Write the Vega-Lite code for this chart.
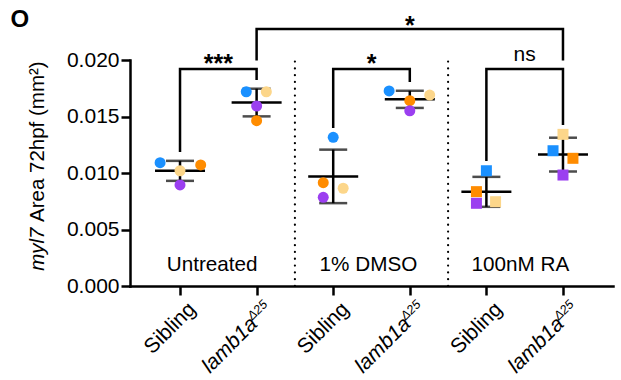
{
  "$schema": "https://vega.github.io/schema/vega-lite/v6.json",
  "width": 483,
  "height": 226,
  "autosize": {"type": "none"},
  "padding": {"left": 130, "top": 60, "right": 8, "bottom": 94},
  "background": "white",
  "config": {
    "view": {"stroke": null},
    "font": "Liberation Sans",
    "text": {"font": "Liberation Sans", "color": "black"}
  },
  "datasets": {
    "pts": [
      {"g": 1, "x": 0.74, "v": 0.01091, "rep": "R1", "treat": "Untreated"},
      {"g": 1, "x": 1.27, "v": 0.01071, "rep": "R2", "treat": "Untreated"},
      {"g": 1, "x": 1.0, "v": 0.00894, "rep": "R3", "treat": "Untreated"},
      {"g": 1, "x": 1.0, "v": 0.01020, "rep": "R4", "treat": "Untreated"},
      {"g": 2, "x": 1.865, "v": 0.01719, "rep": "R1", "treat": "Untreated"},
      {"g": 2, "x": 2.0, "v": 0.01463, "rep": "R2", "treat": "Untreated"},
      {"g": 2, "x": 2.0, "v": 0.01593, "rep": "R3", "treat": "Untreated"},
      {"g": 2, "x": 2.127, "v": 0.01719, "rep": "R4", "treat": "Untreated"},
      {"g": 3, "x": 3.0, "v": 0.01316, "rep": "R1", "treat": "DMSO"},
      {"g": 3, "x": 2.87, "v": 0.00914, "rep": "R2", "treat": "DMSO"},
      {"g": 3, "x": 2.87, "v": 0.00785, "rep": "R3", "treat": "DMSO"},
      {"g": 3, "x": 3.13, "v": 0.00865, "rep": "R4", "treat": "DMSO"},
      {"g": 4, "x": 3.73, "v": 0.01726, "rep": "R1", "treat": "DMSO"},
      {"g": 4, "x": 4.0, "v": 0.01640, "rep": "R2", "treat": "DMSO"},
      {"g": 4, "x": 4.0, "v": 0.01551, "rep": "R3", "treat": "DMSO"},
      {"g": 4, "x": 4.26, "v": 0.01690, "rep": "R4", "treat": "DMSO"},
      {"g": 5, "x": 5.0, "v": 0.01020, "rep": "R1", "treat": "RA"},
      {"g": 5, "x": 4.87, "v": 0.00835, "rep": "R2", "treat": "RA"},
      {"g": 5, "x": 4.87, "v": 0.00732, "rep": "R3", "treat": "RA"},
      {"g": 5, "x": 5.12, "v": 0.00746, "rep": "R4", "treat": "RA"},
      {"g": 6, "x": 5.87, "v": 0.01197, "rep": "R1", "treat": "RA"},
      {"g": 6, "x": 6.13, "v": 0.01130, "rep": "R2", "treat": "RA"},
      {"g": 6, "x": 6.0, "v": 0.00982, "rep": "R3", "treat": "RA"},
      {"g": 6, "x": 6.0, "v": 0.01342, "rep": "R4", "treat": "RA"}
    ],
    "brackets": [
      {"b": 1, "o": 1, "x": 1, "y": 0.01186},
      {"b": 1, "o": 2, "x": 1, "y": 0.0192},
      {"b": 1, "o": 3, "x": 2, "y": 0.0192},
      {"b": 1, "o": 4, "x": 2, "y": 0.01823},
      {"b": 2, "o": 1, "x": 2, "y": 0.01996},
      {"b": 2, "o": 2, "x": 2, "y": 0.02274},
      {"b": 2, "o": 3, "x": 6, "y": 0.02274},
      {"b": 2, "o": 4, "x": 6, "y": 0.01996},
      {"b": 3, "o": 1, "x": 3, "y": 0.01398},
      {"b": 3, "o": 2, "x": 3, "y": 0.0192},
      {"b": 3, "o": 3, "x": 4, "y": 0.0192},
      {"b": 3, "o": 4, "x": 4, "y": 0.01805},
      {"b": 4, "o": 1, "x": 5, "y": 0.01106},
      {"b": 4, "o": 2, "x": 5, "y": 0.0192},
      {"b": 4, "o": 3, "x": 6, "y": 0.0192},
      {"b": 4, "o": 4, "x": 6, "y": 0.01425}
    ]
  },
  "layer": [
    {
      "data": {"values": [{"s": 2.5}, {"s": 4.5}]},
      "mark": {"type": "rule", "strokeWidth": 2.2, "strokeDash": [0.1, 6.7], "strokeCap": "round", "color": "black"},
      "encoding": {
        "x": {"field": "s", "type": "quantitative", "scale": {"domain": [0.347, 6.653], "nice": false, "zero": false},
          "axis": {"title": null, "values": [1, 2, 3, 4, 5, 6], "labels": false, "grid": false, "tickSize": 9, "tickWidth": 2.5, "tickColor": "black", "domainWidth": 2.5, "domainColor": "black", "domainCap": "square"}},
        "y": {"datum": 0, "type": "quantitative", "scale": {"domain": [0, 0.02], "nice": false},
          "axis": {"title": null, "values": [0, 0.005, 0.01, 0.015, 0.02], "format": ".3f", "grid": false, "tickSize": 9, "tickWidth": 2.5, "tickColor": "black", "domainWidth": 2.5, "domainColor": "black", "domainCap": "square", "labelFont": "Liberation Sans", "labelFontSize": 21, "labelColor": "black", "labelPadding": 2}},
        "y2": {"datum": 0.02}
      }
    },
    {
      "data": {"name": "brackets"},
      "mark": {"type": "line", "strokeWidth": 2.5, "color": "black", "strokeJoin": "miter", "strokeCap": "butt"},
      "encoding": {
        "x": {"field": "x", "type": "quantitative", "title": null},
        "y": {"field": "y", "type": "quantitative", "title": null},
        "detail": {"field": "b"},
        "order": {"field": "o"}
      }
    },
    {
      "data": {"name": "pts"},
      "mark": {"type": "errorbar", "extent": "stdev", "orient": "vertical", "ticks": true, "size": 28, "thickness": 2.5, "color": "black"},
      "encoding": {
        "x": {"field": "g", "type": "quantitative", "title": null},
        "y": {"field": "v", "type": "quantitative", "title": null}
      }
    },
    {
      "data": {"name": "pts"},
      "mark": {"type": "tick", "orient": "horizontal", "size": 50, "thickness": 2.5, "color": "black", "opacity": 1},
      "encoding": {
        "x": {"field": "g", "type": "quantitative", "title": null},
        "y": {"aggregate": "mean", "field": "v", "type": "quantitative", "title": null}
      }
    },
    {
      "data": {"name": "pts"},
      "mark": {"type": "point", "filled": true, "opacity": 1, "size": 121, "strokeWidth": 0},
      "encoding": {
        "x": {"field": "x", "type": "quantitative", "title": null},
        "y": {"field": "v", "type": "quantitative", "title": null},
        "color": {"field": "rep", "type": "nominal", "legend": null,
          "scale": {"domain": ["R1", "R2", "R3", "R4"], "range": ["#1a90ff", "#ff8c00", "#9b3ff0", "#fcd68a"]}},
        "shape": {"field": "treat", "type": "nominal", "legend": null,
          "scale": {"domain": ["Untreated", "DMSO", "RA"], "range": ["circle", "circle", "square"]}}
      }
    },
    {
      "data": {"values": [{"x": 1.5, "y": 0.01894, "t": "***"}, {"x": 3.5, "y": 0.01894, "t": "*"}, {"x": 4.0, "y": 0.02234, "t": "*"}]},
      "mark": {"type": "text", "fontSize": 25, "fontWeight": "bold", "align": "center", "baseline": "alphabetic"},
      "encoding": {
        "x": {"field": "x", "type": "quantitative", "title": null},
        "y": {"field": "y", "type": "quantitative", "title": null},
        "text": {"field": "t"}
      }
    },
    {
      "data": {"values": [{"x": 5.5, "y": 0.01994, "t": "ns"}]},
      "mark": {"type": "text", "fontSize": 21, "align": "center", "baseline": "alphabetic"},
      "encoding": {
        "x": {"field": "x", "type": "quantitative", "title": null},
        "y": {"field": "y", "type": "quantitative", "title": null},
        "text": {"field": "t"}
      }
    },
    {
      "data": {"values": [{"x": 1.42, "y": 0.00133, "t": "Untreated"}, {"x": 3.46, "y": 0.00133, "t": "1% DMSO"}, {"x": 5.445, "y": 0.00133, "t": "100nM RA"}]},
      "mark": {"type": "text", "fontSize": 20.7, "align": "center", "baseline": "alphabetic"},
      "encoding": {
        "x": {"field": "x", "type": "quantitative", "title": null},
        "y": {"field": "y", "type": "quantitative", "title": null},
        "text": {"field": "t"}
      }
    },
    {
      "data": {"values": [{"g": 1, "y": -0.00067, "t": "Sibling"}, {"g": 3, "y": -0.00067, "t": "Sibling"}, {"g": 5, "y": -0.00067, "t": "Sibling"}]},
      "mark": {"type": "text", "fontSize": 21, "align": "right", "baseline": "top", "angle": 315, "dy": 6.8},
      "encoding": {
        "x": {"field": "g", "type": "quantitative", "title": null},
        "y": {"field": "y", "type": "quantitative", "title": null},
        "text": {"field": "t"}
      }
    },
    {
      "data": {"values": [{"g": 2, "y": -0.00067, "t": "lamb1a"}, {"g": 4, "y": -0.00067, "t": "lamb1a"}, {"g": 6, "y": -0.00067, "t": "lamb1a"}]},
      "mark": {"type": "text", "fontSize": 21, "fontStyle": "italic", "align": "right", "baseline": "top", "angle": 315, "dx": -21, "dy": 6.8},
      "encoding": {
        "x": {"field": "g", "type": "quantitative", "title": null},
        "y": {"field": "y", "type": "quantitative", "title": null},
        "text": {"field": "t"}
      }
    },
    {
      "data": {"values": [{"g": 2, "y": -0.00067, "t": "Δ25"}, {"g": 4, "y": -0.00067, "t": "Δ25"}, {"g": 6, "y": -0.00067, "t": "Δ25"}]},
      "mark": {"type": "text", "fontSize": 12.5, "fontStyle": "italic", "align": "right", "baseline": "top", "angle": 315, "dx": 0, "dy": 6.3},
      "encoding": {
        "x": {"field": "g", "type": "quantitative", "title": null},
        "y": {"field": "y", "type": "quantitative", "title": null},
        "text": {"field": "t"}
      }
    },
    {
      "data": {"values": [{"x": -0.782, "y": 0.0054, "t": "myl7"}]},
      "mark": {"type": "text", "fontSize": 20.5, "fontStyle": "italic", "align": "right", "baseline": "alphabetic", "angle": 270, "dx": -2.5},
      "encoding": {
        "x": {"field": "x", "type": "quantitative", "title": null},
        "y": {"field": "y", "type": "quantitative", "title": null},
        "text": {"field": "t"}
      }
    },
    {
      "data": {"values": [{"x": -0.782, "y": 0.0054, "t": "Area 72hpf (mm²)"}]},
      "mark": {"type": "text", "fontSize": 20.5, "align": "left", "baseline": "alphabetic", "angle": 270, "dx": 3},
      "encoding": {
        "x": {"field": "x", "type": "quantitative", "title": null},
        "y": {"field": "y", "type": "quantitative", "title": null},
        "text": {"field": "t"}
      }
    },
    {
      "data": {"values": [{"x": -1.213, "y": 0.02292, "t": "O"}]},
      "mark": {"type": "text", "fontSize": 24, "fontWeight": "bold", "align": "left", "baseline": "alphabetic"},
      "encoding": {
        "x": {"field": "x", "type": "quantitative", "title": null},
        "y": {"field": "y", "type": "quantitative", "title": null},
        "text": {"field": "t"}
      }
    }
  ]
}
